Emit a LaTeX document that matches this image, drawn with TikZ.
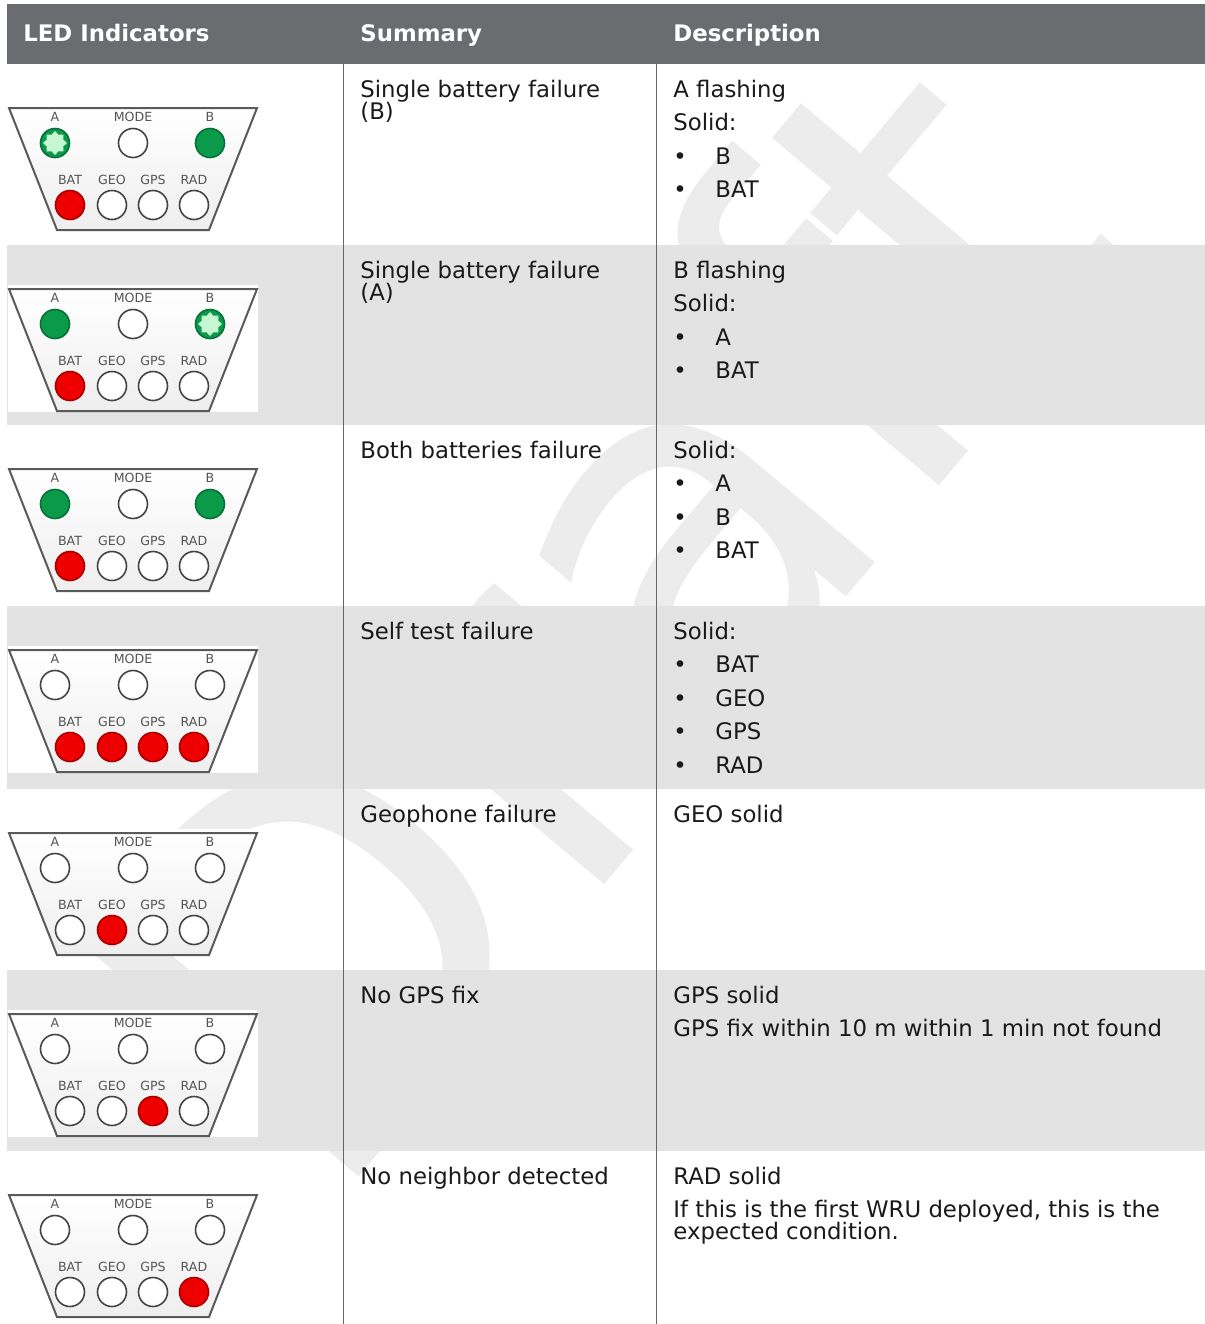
\documentclass[tikz,border=0pt]{standalone}
\usepackage{fontspec}
\setmainfont{DejaVu Sans}
\usetikzlibrary{shapes.geometric}

\definecolor{headgray}{HTML}{6B6C70}
\definecolor{rowgray}{HTML}{E3E3E3}
\definecolor{rulegray}{HTML}{666666}
\definecolor{celltext}{HTML}{1A1A1A}
\definecolor{ledtext}{HTML}{555555}
\definecolor{panelrim}{HTML}{5A5A5A}
\definecolor{panelshade}{HTML}{EEEEEE}
\definecolor{ledrim}{HTML}{444444}
\definecolor{ledgreen}{HTML}{0B9A4A}
\definecolor{ledgreendark}{HTML}{08703A}
\definecolor{ledred}{HTML}{EE0000}
\definecolor{ledreddark}{HTML}{A80000}
\definecolor{flashstar}{HTML}{C4F7D2}
\definecolor{draftgray}{HTML}{ECECEC}

\newcommand{\cellfont}{\fontsize{11.4}{13.7}\selectfont}
\newcommand{\headfont}{\fontsize{11.4}{13.7}\selectfont\bfseries}
\newcommand{\ledfont}{\fontsize{6.3}{7}\selectfont}
\newcommand{\draftfont}{\fontsize{250}{250}\selectfont}

% one LED panel: name, top of the trapezoid, then A MODE B BAT GEO GPS RAD
\newcommand{\ledpanel}[9]{%
  \begin{scope}[shift={(0,#2)}]
    \fill[white] (8,-4) rectangle (258,123);
    \draw[panel] (9,0) -- (257,0) -- (209,122) -- (57,122) -- cycle;
    \node[ledlabel] at (55,9)   {A};
    \node[ledlabel] at (133,9)  {MODE};
    \node[ledlabel] at (210,9)  {B};
    \node[ledlabel] at (70,72)  {BAT};
    \node[ledlabel] at (112,72) {GEO};
    \node[ledlabel] at (153,72) {GPS};
    \node[ledlabel] at (194,72) {RAD};
    \node[#3] (#1-a)    at (55,35)  {};
    \node[#4] (#1-mode) at (133,35) {};
    \node[#5] (#1-b)    at (210,35) {};
    \node[#6] (#1-bat)  at (70,97)  {};
    \node[#7] (#1-geo)  at (112,97) {};
    \node[#8] (#1-gps)  at (153,97) {};
    \node[#9] (#1-rad)  at (194,97) {};
  \end{scope}}

\begin{document}
\begin{tikzpicture}[x=0.5pt, y=-0.5pt,
    headtext/.style={anchor=base west, inner sep=0pt, text=white, font=\headfont},
    cell/.style={anchor=base west, inner sep=0pt, text=celltext, font=\cellfont},
    ledlabel/.style={inner sep=0pt, text=ledtext, font=\ledfont},
    panel/.style={draw=panelrim, line width=1pt, top color=white, bottom color=panelshade},
    led/.style={circle, minimum size=14.5pt, inner sep=0pt, line width=0.8pt},
    ledoff/.style={led, draw=ledrim, fill=white},
    ledon/.style={led, draw=ledgreendark, fill=ledgreen},
    ledfail/.style={led, draw=ledreddark, fill=ledred},
    ledflash/.style={ledon, path picture={
        \node[star, star points=8, star point ratio=1.35, minimum size=12pt,
              inner sep=0pt, fill=flashstar] at (path picture bounding box.center) {};}},
    rule/.style={draw=rulegray, line width=0.5pt},
    watermark/.style={text=draftgray, font=\draftfont, rotate=50, inner sep=0pt}]

  \useasboundingbox[fill=white] (0,0) rectangle (1205,1324);

  % watermark, under the shaded rows
  \node[watermark] (draft) at (590,612) {Draft};

  % header and shaded rows
  \fill[headgray] (7,4) rectangle (1205,64);
  \fill[rowgray] (7,245) rectangle (1205,425);
  \fill[rowgray] (7,606) rectangle (1205,789);
  \fill[rowgray] (7,970) rectangle (1205,1151);

  \coordinate (c1top) at (343,64);
  \coordinate (c1bot) at (343,1324);
  \coordinate (c2top) at (656,64);
  \coordinate (c2bot) at (656,1324);
  \draw[rule] (c1top) -- (c1bot);
  \draw[rule] (c2top) -- (c2bot);

  \node[headtext] (hled)  at (23,41)  {LED Indicators};
  \node[headtext] (hsum)  at (360,41) {Summary};
  \node[headtext] (hdesc) at (673,41) {Description};

  % LED panels
  \ledpanel{p1}{108}{ledflash}{ledoff}{ledon}{ledfail}{ledoff}{ledoff}{ledoff}
  \ledpanel{p2}{289}{ledon}{ledoff}{ledflash}{ledfail}{ledoff}{ledoff}{ledoff}
  \ledpanel{p3}{469}{ledon}{ledoff}{ledon}{ledfail}{ledoff}{ledoff}{ledoff}
  \ledpanel{p4}{650}{ledoff}{ledoff}{ledoff}{ledfail}{ledfail}{ledfail}{ledfail}
  \ledpanel{p5}{833}{ledoff}{ledoff}{ledoff}{ledoff}{ledfail}{ledoff}{ledoff}
  \ledpanel{p6}{1014}{ledoff}{ledoff}{ledoff}{ledoff}{ledoff}{ledfail}{ledoff}
  \ledpanel{p7}{1195}{ledoff}{ledoff}{ledoff}{ledoff}{ledoff}{ledoff}{ledfail}

  % row 1
  \node[cell] (s1a) at (360,97)  {Single battery failure};
  \node[cell] (s1b) at (360,119) {(B)};
  \node[cell] (d1a) at (673,97)  {A flashing};
  \node[cell] (d1b) at (673,130.5) {Solid:};
  \node[cell] (d1c) at (673,164) {•};   \node[cell] (d1ct) at (715,164) {B};
  \node[cell] (d1d) at (673,197.5) {•}; \node[cell] (d1dt) at (715,197.5) {BAT};

  % row 2
  \node[cell] (s2a) at (360,278) {Single battery failure};
  \node[cell] (s2b) at (360,300) {(A)};
  \node[cell] (d2a) at (673,278) {B flashing};
  \node[cell] (d2b) at (673,311.5) {Solid:};
  \node[cell] (d2c) at (673,345) {•};   \node[cell] (d2ct) at (715,345) {A};
  \node[cell] (d2d) at (673,378.5) {•}; \node[cell] (d2dt) at (715,378.5) {BAT};

  % row 3
  \node[cell] (s3a) at (360,458) {Both batteries failure};
  \node[cell] (d3a) at (673,458) {Solid:};
  \node[cell] (d3b) at (673,491.5) {•}; \node[cell] (d3bt) at (715,491.5) {A};
  \node[cell] (d3c) at (673,525) {•};   \node[cell] (d3ct) at (715,525) {B};
  \node[cell] (d3d) at (673,558.5) {•}; \node[cell] (d3dt) at (715,558.5) {BAT};

  % row 4
  \node[cell] (s4a) at (360,639) {Self test failure};
  \node[cell] (d4a) at (673,639) {Solid:};
  \node[cell] (d4b) at (673,672.5) {•}; \node[cell] (d4bt) at (715,672.5) {BAT};
  \node[cell] (d4c) at (673,706) {•};   \node[cell] (d4ct) at (715,706) {GEO};
  \node[cell] (d4d) at (673,739.5) {•}; \node[cell] (d4dt) at (715,739.5) {GPS};
  \node[cell] (d4e) at (673,773) {•};   \node[cell] (d4et) at (715,773) {RAD};

  % row 5
  \node[cell] (s5a) at (360,822) {Geophone failure};
  \node[cell] (d5a) at (673,822) {GEO solid};

  % row 6
  \node[cell] (s6a) at (360,1003) {No GPS fix};
  \node[cell] (d6a) at (673,1003) {GPS solid};
  \node[cell] (d6b) at (673,1036.5) {GPS fix within 10 m within 1 min not found};

  % row 7
  \node[cell] (s7a) at (360,1184) {No neighbor detected};
  \node[cell] (d7a) at (673,1184) {RAD solid};
  \node[cell] (d7b) at (673,1217.5) {If this is the first WRU deployed, this is the};
  \node[cell] (d7c) at (673,1239.5) {expected condition.};
\end{tikzpicture}
\end{document}
